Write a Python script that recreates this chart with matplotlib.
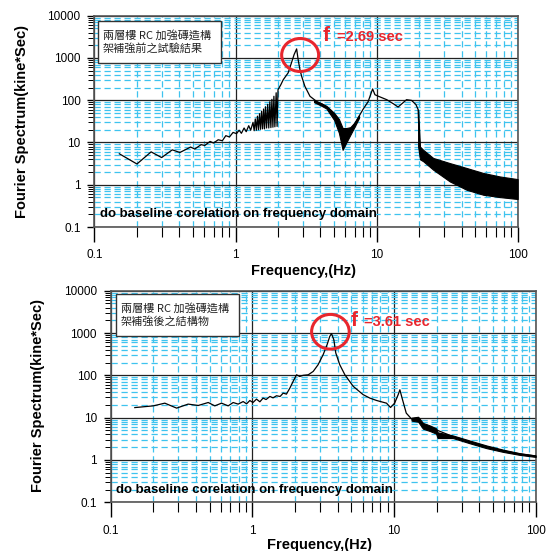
import matplotlib
matplotlib.use('Agg')
import matplotlib.pyplot as plt
from matplotlib.patches import Ellipse, Rectangle
from matplotlib.ticker import LogLocator, NullFormatter, FixedLocator, FixedFormatter

plt.rcParams['font.family'] = ['Liberation Sans', 'Noto Sans CJK TC', 'DejaVu Sans']

# ---- data ----
xticks = [0.1, 1, 10, 100]
xticklabels = ['0.1', '1', '10', '100']
yticks = [0.1, 1, 10, 100, 1000, 10000]
yticklabels = ['0.1', '1', '10', '100', '1000', '10000']

# before strengthening
top_freq = [0.150, 0.200, 0.252, 0.299, 0.356, 0.403, 0.480, 0.514, 0.570, 0.605,
            0.660, 0.698, 0.753, 0.806, 0.853, 0.905, 0.960, 1.016, 1.06, 1.10,
            1.15, 1.19, 1.24, 1.28, 1.33, 1.355, 1.38, 1.405, 1.43, 1.455,
            1.48, 1.505, 1.53, 1.555, 1.58, 1.605, 1.63, 1.66, 1.69, 1.72,
            1.75, 1.78, 1.81, 1.84, 1.87, 1.90, 1.94, 1.97, 2.00, 2.09,
            2.18, 2.27, 2.36, 2.49, 2.60, 2.71, 2.78, 2.86, 2.94, 3.10,
            3.37, 3.75, 4.18, 4.6, 5.2, 5.74, 6.47, 7.2, 8.04, 8.7,
            9.37, 9.73, 10.3, 11.8, 13.1, 14.2, 16.3, 17.7, 19.0, 19.7,
            20.2]
top_amp = [5.4, 3.1, 6.0, 4.4, 6.7, 5.8, 7.8, 7.0, 8.9, 8.5,
           10.6, 9.7, 11.6, 11.0, 14.5, 13.5, 17.3, 16.2, 19.5, 16.5,
           22, 18, 25, 19.5, 30, 19, 36, 19.5, 42, 20,
           48, 20.5, 55, 21, 62, 21, 70, 22, 80, 22,
           92, 22.5, 105, 23, 124, 23.5, 150, 24, 178, 230,
           307, 370, 445, 764, 1200, 1640, 900, 531, 370, 214,
           124, 94, 79, 62, 40, 10, 18, 33, 62, 92,
           185, 135, 124, 103, 83, 69, 103, 99, 79, 60,
           6]
top_band1_f = [3.6, 4.0, 4.4, 5.0, 5.4, 5.74, 6.1, 6.5, 7.0, 7.5]
top_band1_hi = [98, 86, 74, 50, 36, 22, 22, 23, 30, 44]
top_band1_lo = [90, 76, 64, 34, 17, 6.7, 10, 15, 24, 38]
top_band2_f = [19.7, 20.3, 21.4, 25.2, 33, 43.5, 57, 74.9, 100]
top_band2_hi = [60, 8, 6.7, 4.3, 3.26, 2.49, 1.9, 1.57, 1.36]
top_band2_lo = [8, 4.0, 3.6, 2.27, 1.2, 0.76, 0.58, 0.51, 0.46]

# after strengthening
bot_freq = [0.148, 0.2, 0.241, 0.292, 0.352, 0.415, 0.488, 0.543, 0.606, 0.675,
            0.732, 0.794, 0.861, 0.91, 0.96, 1.01, 1.07, 1.13, 1.19, 1.25,
            1.33, 1.4, 1.48, 1.57, 1.65, 1.74, 1.84, 1.94, 2.05, 2.16,
            2.28, 2.48, 2.69, 2.91, 3.16, 3.37, 3.52, 3.62, 3.76, 3.88,
            4.14, 4.5, 5.15, 6.05, 6.75, 7.52, 8.85, 9.45, 10.1, 10.7,
            11.0, 11.4, 12.2, 13.3, 14.8, 16, 20, 26.1, 34.3, 45,
            58.9, 77.2, 100]
bot_amp = [17.3, 19, 22, 16.8, 20.9, 19.4, 22.8, 19, 22, 19,
           22.8, 20.9, 24, 21.2, 25.4, 22.8, 27.4, 23.7, 29, 26.8,
           31.7, 29.4, 32.9, 31.7, 38, 36, 50, 72, 103, 94,
           100, 103, 124, 178, 308, 531, 835, 968, 695, 338,
           178, 103, 55, 35, 29, 25.5, 22, 17.4, 22, 35,
           45.6, 29, 12.8, 9.3, 9.2, 6.75, 5.1, 3.57, 2.7, 2.07,
           1.66, 1.39, 1.24]
bot_band_f = [13.3, 14.8, 16, 18, 19.8, 20.3, 26, 34, 45, 59, 77, 100]
bot_band_hi = [10, 10.5, 7.5, 6.5, 5.6, 4.5, 3.8, 2.9, 2.2, 1.75, 1.45, 1.28]
bot_band_lo = [8.5, 8, 5.5, 4.8, 4.2, 3.3, 3.3, 2.5, 1.9, 1.55, 1.32, 1.18]

top_note = '兩層樓 RC 加強磚造構\n架補強前之試驗結果'
bot_note = '兩層樓 RC 加強磚造構\n架補強後之結構物'
top_period = '=2.69 sec'
bot_period = '=3.61 sec'
remark = 'do baseline corelation on frequency domain'

RED = '#e8262d'
CYAN = '#3ec3ef'

fig = plt.figure(figsize=(5.51, 5.51), dpi=100)


def panel(rect, freq, amp, bands, note, period, box, circ, ftxt):
    ax = fig.add_axes(rect)
    ax.set_xscale('log')
    ax.set_yscale('log')
    ax.set_xlim(0.1, 100)
    ax.set_ylim(0.1, 10000)
    # grids: cyan dashed minor, dark solid major
    ax.grid(True, which='minor', color=CYAN, lw=0.9, linestyle=(0, (5, 3)))
    ax.grid(True, which='major', color='#222222', lw=0.9, linestyle='-')
    ax.set_axisbelow(True)
    ax.xaxis.set_major_locator(FixedLocator(xticks))
    ax.xaxis.set_major_formatter(FixedFormatter(xticklabels))
    ax.yaxis.set_major_locator(FixedLocator(yticks))
    ax.yaxis.set_major_formatter(FixedFormatter(yticklabels))
    ax.xaxis.set_minor_locator(LogLocator(base=10, subs=range(2, 10)))
    ax.yaxis.set_minor_locator(LogLocator(base=10, subs=range(2, 10)))
    ax.xaxis.set_minor_formatter(NullFormatter())
    ax.yaxis.set_minor_formatter(NullFormatter())
    ax.tick_params(axis='x', which='major', direction='out', length=11, width=1.0, pad=5, labelsize=8.5)
    ax.tick_params(axis='x', which='minor', direction='out', length=7, width=0.8)
    ax.tick_params(axis='y', which='major', direction='out', length=5, width=1.0, pad=5, labelsize=8.5)
    ax.tick_params(axis='y', which='minor', direction='out', length=4, width=0.7)
    for s in ax.spines.values():
        s.set_color('#555555')
        s.set_linewidth(1.2)

    ax.plot(freq, amp, color='black', lw=0.9, zorder=3)
    for bf, bhi, blo in bands:
        ax.fill_between(bf, blo, bhi, color='black', lw=0.8, zorder=3)

    ax.add_patch(Rectangle((box[0], box[1]), box[2], box[3], transform=ax.transAxes,
                           facecolor='white', edgecolor='#333333', lw=1.0, zorder=4))
    ax.text(box[0] + 0.011, box[1] + box[3] * 0.5, note, transform=ax.transAxes,
            family=['Noto Sans CJK TC'], fontsize=8, color='#222222',
            ha='left', va='center', linespacing=1.25, zorder=5)
    ax.text(0.013, 0.06, remark, transform=ax.transAxes, fontsize=9.5,
            fontweight='bold', ha='left', va='center', zorder=5)

    ax.add_patch(Ellipse((circ[0], circ[1]), circ[2], circ[3], transform=ax.transAxes,
                         fill=False, edgecolor=RED, lw=2.2, zorder=6, clip_on=False))
    ax.text(ftxt[0], ftxt[1], 'f', transform=ax.transAxes, color=RED, fontsize=15,
            fontweight='bold', ha='left', va='center', zorder=6)
    ax.text(ftxt[0] + 0.032, ftxt[1] - 0.008, period, transform=ax.transAxes, color=RED,
            fontsize=10.5, fontweight='bold', ha='left', va='center', zorder=6)
    return ax


ax1 = panel([0.1715, 0.588, 0.768, 0.3835], top_freq, top_amp,
            [(top_band1_f, top_band1_hi, top_band1_lo), (top_band2_f, top_band2_hi, top_band2_lo)],
            top_note, top_period, (0.009, 0.778, 0.289, 0.198),
            (0.486, 0.814, 0.0874, 0.156), (0.540, 0.906))
ax2 = panel([0.2009, 0.0884, 0.7713, 0.384], bot_freq, bot_amp,
            [(bot_band_f, bot_band_hi, bot_band_lo)],
            bot_note, bot_period, (0.0125, 0.787, 0.290, 0.197),
            (0.517, 0.806, 0.0885, 0.164), (0.565, 0.8615))

# axis titles
fig.text(22 / 551, 1 - 121 / 551, 'Fourier Spectrum(kine*Sec)', rotation=90,
         fontsize=10.5, fontweight='bold', ha='center', va='center')
fig.text(304 / 551, 1 - 264 / 551, 'Frequency,(Hz)', fontsize=10.5,
         fontweight='bold', ha='center', va='top')
fig.text(38 / 551, 1 - 396 / 551, 'Fourier Spectrum(kine*Sec)', rotation=90,
         fontsize=10.5, fontweight='bold', ha='center', va='center')
fig.text(320 / 551, 1 - 538 / 551, 'Frequency,(Hz)', fontsize=10.5,
         fontweight='bold', ha='center', va='top')

fig.savefig('out.png', dpi=100)
